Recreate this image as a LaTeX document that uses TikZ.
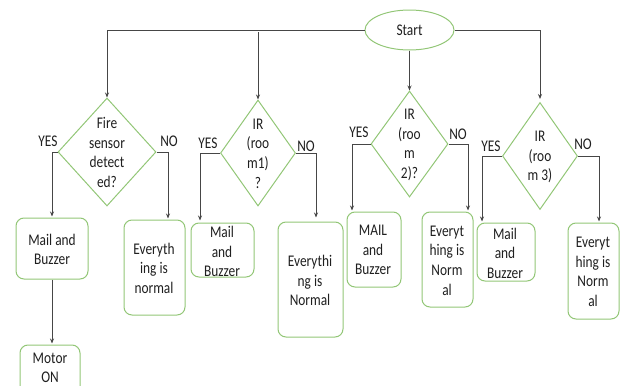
\documentclass[tikz,border=0pt]{standalone}
\usepackage{fontspec}
\setmainfont{Carlito}
\usetikzlibrary{shapes.geometric,arrows.meta,calc}
\definecolor{grn}{RGB}{146,198,118}
\definecolor{ln}{RGB}{70,70,70}
\tikzset{
  txt/.style={align=center,inner sep=0pt,xscale=0.82,font=\fontsize{16.3pt}{19.6pt}\selectfont,text=black!88},
  dia/.style={diamond,draw=grn,line width=1pt,inner sep=0pt},
  box/.style={draw=grn,line width=1pt,rounded corners=8pt,inner sep=0pt},
  conn/.style={draw=ln,line width=0.9pt},
  arr/.style={conn,-{Stealth[length=5pt,width=4pt]}},
}
\begin{document}
\begin{tikzpicture}[x=1pt,y=-1pt]
\useasboundingbox (0,0) rectangle (622,386);
\clip (0,0) rectangle (622,386);
% start
\node[ellipse,draw=grn,line width=1pt,minimum width=89pt,minimum height=40pt,inner sep=0pt] (start) at (409.5,30) {};
\node[txt] (starttxt) at (409.5,30) {Start};
% diamonds
\node[dia,minimum width=98pt,minimum height=108pt] (d1) at (107,152) {};
\node[dia,minimum width=75pt,minimum height=106pt] (d2) at (258,153) {};
\node[dia,minimum width=77pt,minimum height=106pt] (d3) at (409.5,144) {};
\node[dia,minimum width=75pt,minimum height=107pt] (d4) at (540,156) {};
\node[txt] (d1t) at (107,152.5) {Fire\\sensor\\detect\\ed?};
\node[txt] (d2t) at (258,153.5) {IR\\(roo\\m1)\\?};
\node[txt] (d3t) at (409.5,145) {IR\\(roo\\m\\2)?};
\node[txt] (d4t) at (540,157) {IR\\(roo\\m 3)};
% boxes
\node[box,minimum width=72pt,minimum height=61pt] (b1) at (52,248.5) {};
\node[box,minimum width=61pt,minimum height=95pt] (b2) at (154.5,267.5) {};
\node[box,minimum width=63pt,minimum height=54pt] (b3) at (222.5,250) {};
\node[box,minimum width=65pt,minimum height=115pt] (b4) at (310.5,279.5) {};
\node[box,minimum width=54pt,minimum height=75pt] (b5) at (374,249.5) {};
\node[box,minimum width=51pt,minimum height=95pt] (b6) at (447.5,259.5) {};
\node[box,minimum width=58pt,minimum height=58pt] (b7) at (506,252) {};
\node[box,minimum width=51pt,minimum height=96pt] (b8) at (593.5,271) {};
\node[box,minimum width=60pt,minimum height=60pt] (b9) at (50,375) {};
\node[txt] (b1t) at (52,249.5) {Mail and\\Buzzer};
\node[txt] (b2t) at (154,268) {Everyth\\ing is\\normal};
\node[txt] (b3t) at (222,251.5) {Mail\\and\\Buzzer};
\node[txt] (b4t) at (310,280.5) {Everythi\\ng is\\Normal};
\node[txt] (b5t) at (373,250) {MAIL\\and\\Buzzer};
\node[txt] (b6t) at (447,260.5) {Everyt\\hing is\\Norm\\al};
\node[txt] (b7t) at (505,253) {Mail\\and\\Buzzer};
\node[txt] (b8t) at (593,272) {Everyt\\hing is\\Norm\\al};
\node[txt] (b9t) at (50,368) {Motor\\ON};
% yes/no labels
\node[txt] (y1) at (48,141) {YES};
\node[txt] (n1) at (169,141) {NO};
\node[txt] (y2) at (208,143) {YES};
\node[txt] (n2) at (306,146) {NO};
\node[txt] (y3) at (359,132) {YES};
\node[txt] (n3) at (458,134) {NO};
\node[txt] (y4) at (491,146) {YES};
\node[txt] (n4) at (583,144) {NO};
% connectors from start
\draw[arr] (start.west) -| (d1.north);
\draw[arr] (d2.north |- start.west) ++(0,2) -- (d2.north);
\draw[arr] (start.south) -- (d3.north);
\draw[arr,shorten >=3pt] (start.east) -| (d4.north);
% yes/no connectors
\draw[arr,shorten >=1pt] (d1.west) -| (b1.north);
\draw[arr,shorten >=1pt] (d1.east) -| ([xshift=13.5pt]b2.north);
\draw[arr,shorten >=2pt] (d2.west) -| ([xshift=-22.5pt]b3.north);
\draw[arr,shorten >=4pt] (d2.east) -| ([xshift=5.5pt]b4.north);
\draw[arr,shorten >=1pt] (d3.west) -| ([xshift=-22pt]b5.north);
\draw[arr,shorten >=1pt] (d3.east) -| ([xshift=20.5pt]b6.north);
\draw[arr,shorten >=1pt] (d4.west) -| ([xshift=-24pt]b7.north);
\draw[arr,shorten >=1pt] (d4.east) -| ([xshift=5.5pt]b8.north);
\draw[arr,shorten >=1pt] (b1.south) -- (b9.north -| b1.south);
\end{tikzpicture}
\end{document}
